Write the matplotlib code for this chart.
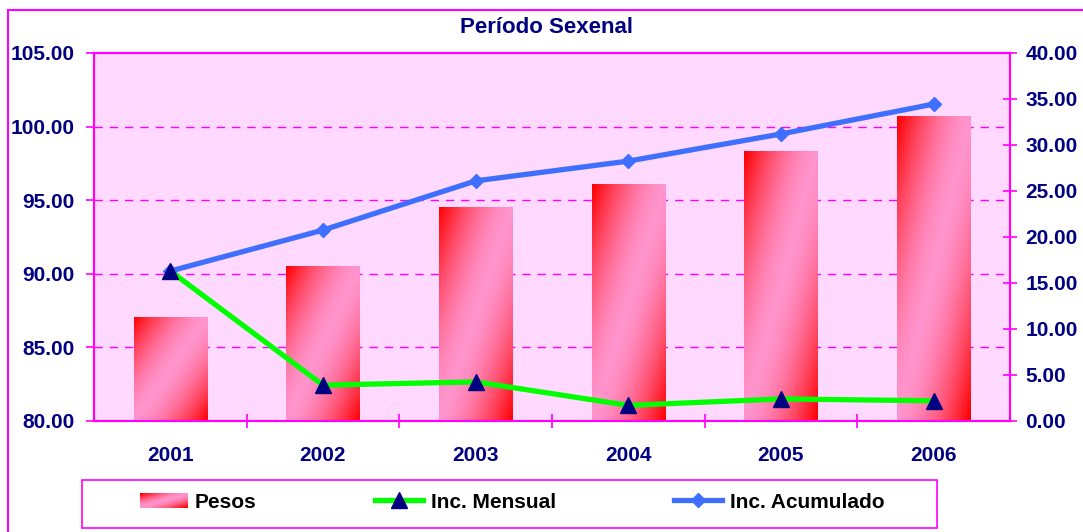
import matplotlib.pyplot as plt
import numpy as np
from matplotlib.patches import Rectangle
from matplotlib.lines import Line2D
from matplotlib.legend_handler import HandlerBase
from matplotlib.image import BboxImage
from matplotlib.transforms import Bbox, TransformedBbox

years = ["2001", "2002", "2003", "2004", "2005", "2006"]
pesos = [87.07, 90.55, 94.55, 96.10, 98.35, 100.72]
inc_mensual = [16.30, 3.90, 4.25, 1.70, 2.40, 2.20]
inc_acumulado = [16.30, 20.75, 26.10, 28.25, 31.20, 34.45]

navy = "#000080"
magenta = "#FF00FF"
plt.rcParams["font.family"] = ["Liberation Sans", "DejaVu Sans"]
plt.rcParams["font.weight"] = "bold"

W, H = 1083, 532
fig = plt.figure(figsize=(W / 100, H / 100), dpi=100)
fig.patch.set_facecolor("white")

# plot area in pixels: left 94, right 1010, top 53, bottom 421
ax = fig.add_axes([94 / W, 1 - 421 / H, (1010 - 94) / W, (421 - 53) / H])
ax.set_facecolor("#FFD9FF")
ax2 = ax.twinx()

x = np.arange(len(years))

ax.set_yticks(np.arange(80, 105.1, 5))
ax.set_yticklabels([f"{v:.2f}" for v in np.arange(80, 105.1, 5)])
ax2.set_yticks(np.arange(0, 40.1, 5))
ax2.set_yticklabels([f"{v:.2f}" for v in np.arange(0, 40.1, 5)])

for v in [85, 90, 95, 100]:
    ax.axhline(v, color=magenta, lw=1, ls=(0, (6, 5)), zorder=0.5)

# gradient bars
red = np.array([1.0, 0.0, 0.0])
pink = np.array([1.0, 0.58, 0.80])


def gradient(nx=40, ny=120):
    u = np.linspace(0, 1, nx)[None, :]
    vv = np.linspace(0, 1, ny)[:, None]
    f = np.clip(np.abs(u + vv - 1.0), 0, 1) ** 1.6
    return pink[None, None, :] * (1 - f[..., None]) + red[None, None, :] * f[..., None]


class HandlerGradient(HandlerBase):
    def create_artists(self, legend, orig_handle, xdescent, ydescent,
                       width, height, fontsize, trans):
        bb = TransformedBbox(Bbox.from_bounds(-xdescent, -ydescent, width, height), trans)
        img = BboxImage(bb, interpolation="bilinear")
        img.set_data(gradient(24, 8))
        return [img]


bars = ax.bar(x, [p - 80 for p in pesos], bottom=80, width=0.48,
              color="#FF80B4", edgecolor="none", zorder=1, label="Pesos")
for b in bars:
    im = ax.imshow(gradient(), extent=(b.get_x(), b.get_x() + b.get_width(),
                                       b.get_y(), b.get_y() + b.get_height()),
                   aspect="auto", origin="upper", zorder=1.1, interpolation="bilinear")
    im.set_clip_path(b)
ax.set_xlim(-0.5, len(years) - 0.5)
ax.set_ylim(80, 105)
ax2.set_ylim(0, 40)

ax2.plot(x, inc_acumulado, color="#3F6FFF", lw=3.8, marker="D", markersize=7,
         markerfacecolor="#3F6FFF", markeredgecolor="#3F6FFF", zorder=2)
ax2.plot(x, inc_mensual, color="#00FF00", lw=3.8, marker="^", markersize=12,
         markerfacecolor=navy, markeredgecolor=navy, zorder=3)

for a in (ax, ax2):
    for s in a.spines.values():
        s.set_color(magenta)
        s.set_linewidth(1.5)

ax.set_xticks(x)
ax.set_xticklabels(years)
ax.set_xticks(np.arange(0.5, len(years) - 0.5, 1), minor=True)
ax.tick_params(axis="x", which="major", length=0, pad=18, labelsize=15, labelcolor=navy)
ax.tick_params(axis="x", which="minor", length=10, direction="inout", color=magenta, width=1.2)
ax.tick_params(axis="y", length=6, direction="out", color=magenta, width=1.2,
               labelsize=15, labelcolor=navy, pad=8)
ax2.tick_params(axis="y", length=10, direction="inout", color=magenta, width=1.2,
                labelsize=15, labelcolor=navy, pad=6)
for lab in ax.get_xticklabels() + ax.get_yticklabels() + ax2.get_yticklabels():
    lab.set_fontweight("bold")

fig.text(546 / W, 1 - 28 / H, "Período Sexenal", ha="center", va="center",
         fontsize=16, fontweight="bold", color=navy)

# outer chart border
fig.patches.append(Rectangle((8 / W, -0.1), 1.2, 1 - 10 / H + 0.1, transform=fig.transFigure,
                             fill=False, edgecolor=magenta, lw=1.5))

# legend box
fig.patches.append(Rectangle((82 / W, 1 - 528 / H), (937 - 82) / W, (528 - 480) / H,
                             transform=fig.transFigure, fill=False, edgecolor=magenta, lw=1.2))
handles = [
    bars,
    Line2D([], [], color="#00FF00", lw=3.8, marker="^", markersize=12,
           markerfacecolor=navy, markeredgecolor=navy),
    Line2D([], [], color="#3F6FFF", lw=3.8, marker="D", markersize=7,
           markerfacecolor="#3F6FFF", markeredgecolor="#3F6FFF"),
]
leg = fig.legend(handles, ["Pesos", "Inc. Mensual", "Inc. Acumulado"], ncol=3,
                 loc="center", bbox_to_anchor=(512 / W, 1 - 502 / H), frameon=False,
                 prop={"size": 15, "weight": "bold"}, handlelength=2.3,
                 handletextpad=0.35, columnspacing=5.7, numpoints=1,
                 handler_map={type(bars): HandlerGradient()})

fig.savefig("out.png", dpi=100)
